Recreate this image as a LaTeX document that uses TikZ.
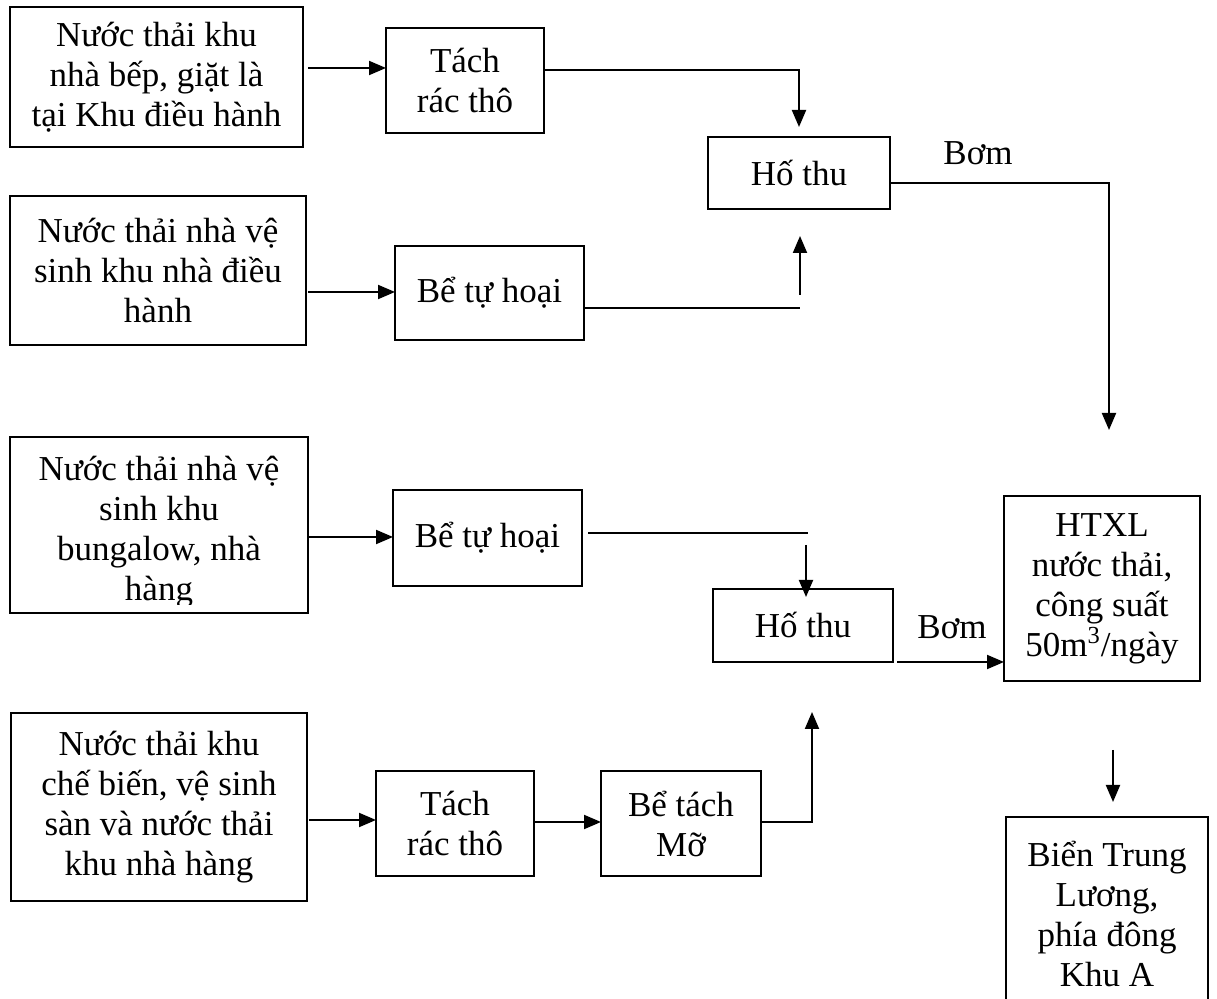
\documentclass[tikz,border=0pt]{standalone}
\usepackage{fontspec}
\setmainfont{Liberation Serif}
\usetikzlibrary{arrows.meta,calc}
\begin{document}
\begin{tikzpicture}[x=0.5pt,y=-0.5pt,
  font=\fontsize{17.5pt}{20pt}\selectfont,
  box/.style={draw, line width=1pt, inner sep=0pt, outer sep=0pt, align=center},
  link/.style={line width=1pt},
  arr/.style={link, -{Triangle[length=8.5pt,width=7pt]}},
  lbl/.style={inner sep=0pt}]
\clip (0,0) rectangle (1217,999);
\fill[white] (0,0) rectangle (1217,999);

% sources, left column
\node[box, minimum width=146.5pt, minimum height=70pt] (a1) at (156.5,77)
  {Nước thải khu\\nhà bếp, giặt là\\tại Khu điều hành};
\node[box, minimum width=148pt, minimum height=74.5pt] (a2) at (158,270.5)
  {Nước thải nhà vệ\\sinh khu nhà điều\\hành};
\node[box, minimum width=149pt, minimum height=88pt] (a3) at (159,525) {};
\begin{scope}
  \clip (10,437) rectangle (308,605);
  \node[lbl, align=center] (a3t) at (159,532)
    {Nước thải nhà vệ\\sinh khu\\bungalow, nhà\\hàng};
\end{scope}
\node[box, minimum width=148pt, minimum height=94pt] (a4) at (159,807)
  {Nước thải khu\\chế biến, vệ sinh\\sàn và nước thải\\khu nhà hàng};

% pre-treatment
\node[box, minimum width=79pt, minimum height=52.5pt] (t1) at (465,80.5) {Tách\\rác thô};
\node[box, minimum width=94.5pt, minimum height=47pt] (b1) at (489.5,293) {Bể tự hoại};
\node[box, minimum width=94.5pt, minimum height=48pt] (b2) at (487.5,538) {Bể tự hoại};
\node[box, minimum width=79pt, minimum height=52.5pt] (t2) at (455,823.5) {Tách\\rác thô};
\node[box, minimum width=80pt, minimum height=52.5pt] (btm) at (681,823.5) {Bể tách\\Mỡ};

% collection pits
\node[box, minimum width=91pt, minimum height=36pt] (h1) at (799,173) {Hố thu};
\node[box, minimum width=90pt, minimum height=36.5pt] (h2) at (803,625.5) {Hố thu};

% treatment and discharge
\node[box, minimum width=98pt, minimum height=92.5pt] (htxl) at (1102,588.5)
  {HTXL\\nước thải,\\công suất\\50m\textsuperscript{3}/ngày};
\node[box, minimum width=101pt, minimum height=96.5pt] (btl) at (1107,913.5)
  {Biển Trung\\Lương,\\phía đông\\Khu A};

% pump labels
\node[lbl] (bom1) at (978,153) {Bơm};
\node[lbl] (bom2) at (952,627) {Bơm};

% upper branch
\draw[arr] ($(a1.east |- 0,68)+(5,0)$) -- (t1.west |- 0,68);
\draw[arr] (t1.east |- 0,70) -| ($(h1.north)+(0,-10)$);
\draw[arr] ($(a2.east |- 0,292)+(2,0)$) -- (b1.west |- 0,292);
\coordinate (j1) at (800,308);
\coordinate (j1s) at (800,295);
\draw[link] (b1.east |- 0,308) -- (j1);
\draw[arr] (j1s) -- ($(h1.south)+(1,27)$);
\coordinate (p1) at (1109,430);
\draw[arr] (h1.east |- 0,183) -| (p1);

% lower branch
\draw[arr] (a3.east |- 0,537) -- (b2.west |- 0,537);
\coordinate (j2) at (808,533);
\coordinate (j2s) at (806,545);
\draw[link] ($(b2.east |- 0,533)+(6,0)$) -- (j2);
\draw[arr] (j2s) -- ($(h2.north)+(3,8)$);
\draw[arr] ($(a4.east |- 0,820)+(2,0)$) -- (t2.west |- 0,820);
\draw[arr] (t2.east |- 0,822) -- (btm.west |- 0,822);
\coordinate (j3) at (812,712);
\draw[arr] (btm.east |- 0,822) -| (j3);
\draw[arr] ($(h2.south east)+(4,0)$) -- (htxl.west |- 0,662);

% outfall
\coordinate (j4) at (1113,750);
\draw[arr] (j4) -- ($(btl.north)+(6,-15)$);
\end{tikzpicture}
\end{document}
